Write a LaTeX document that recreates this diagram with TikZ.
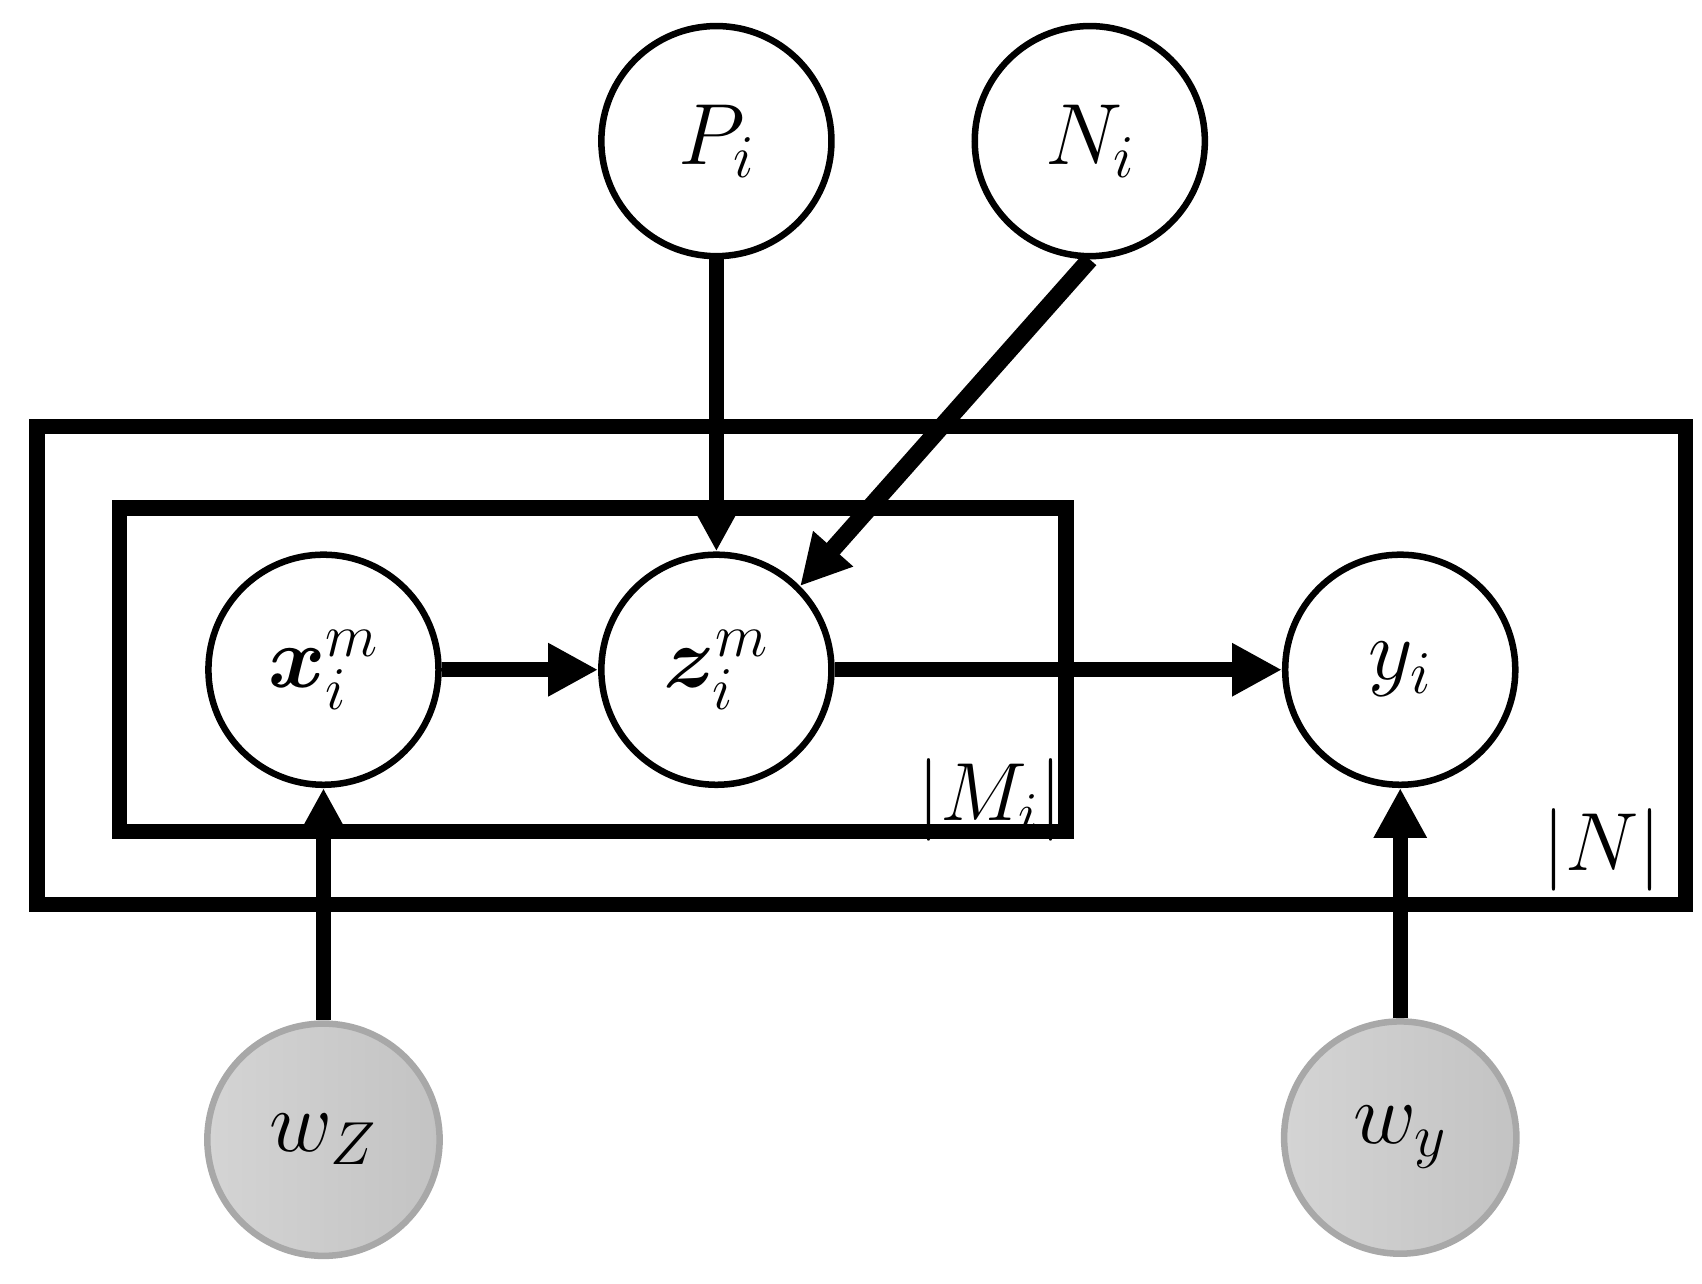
\RequirePackage{fix-cm}
\documentclass[tikz,border=0pt]{standalone}
\usepackage{amsmath,bm}
\usetikzlibrary{arrows.meta}
\definecolor{wfillL}{HTML}{D4D4D4}
\definecolor{wfillR}{HTML}{C3C3C3}
\definecolor{wdraw}{HTML}{A8A8A8}
\begin{document}
\begin{tikzpicture}[x=0.5pt,y=-0.5pt,
  var/.style={circle,draw=black,line width=3pt,minimum size=106pt,inner sep=0pt,fill=white,font=\fontsize{40}{48}\selectfont},
  obs/.style={circle,draw=wdraw,line width=3pt,minimum size=107pt,inner sep=0pt,left color=wfillL,right color=wfillR,font=\fontsize{40}{48}\selectfont},
  edge/.style={line width=7pt,-{Triangle[length=23pt,width=23pt]}},
  plate/.style={draw=black,line width=7pt},
  lbl/.style={inner sep=0pt,font=\fontsize{38}{46}\selectfont}]
\useasboundingbox (0,0) rectangle (1568,1182);
% plates
\draw[plate] (34,393) rectangle (1553,833);
\draw[plate] (110,468) rectangle (982,766);
\node[lbl] (Mlbl) at (912,737) {$|M_i|$};
\node[lbl] (Nlbl) at (1476,783) {$|N|$};
% nodes
\node[var] (P) at (660,130) {$P_i$};
\node[var] (N) at (1004,130) {$N_i$};
\node[var] (x) at (298,617) {$\boldsymbol{x}_i^m$};
\node[var] (z) at (660,617) {$\boldsymbol{z}_i^m$};
\node[var] (y) at (1290,617) {$y_i$};
\node[obs] (wz) at (298,1050) {$w_Z$};
\node[obs] (wy) at (1290,1048) {$w_y$};
% edges
\draw[edge] (P.south) -- (z.north);
\draw[edge,line width=8pt] (N.south) -- (z.45);
\draw[edge] (x.east) -- (z.west);
\draw[edge] (z.east) -- (y.west);
\draw[edge] (wz.north) -- (x.south);
\draw[edge] (wy.north) -- (y.south);
\end{tikzpicture}
\end{document}
